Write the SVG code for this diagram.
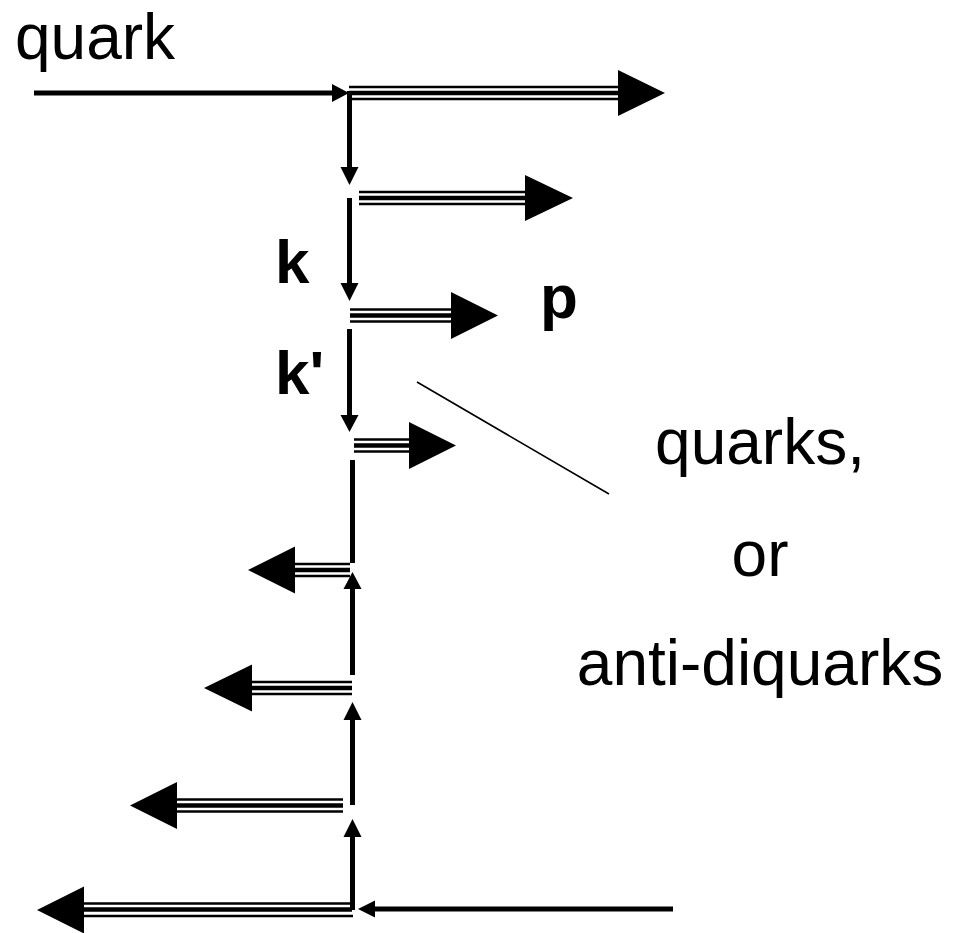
<svg xmlns="http://www.w3.org/2000/svg" width="956" height="933" viewBox="0 0 956 933">
<style>
.bg{fill:#fff}
.thin{stroke:#000;stroke-width:2.6;fill:none}
.thick{stroke:#000;stroke-width:4.5;fill:none}
.line{stroke:#000;stroke-width:5;fill:none}
.hair{stroke:#000;stroke-width:1.6;fill:none}
.head{fill:#000;stroke:none}
.lbl{font-family:"Liberation Sans",Arial,sans-serif;font-size:64px;fill:#000}
.bold{font-family:"Liberation Sans",Arial,sans-serif;font-size:62px;font-weight:bold;fill:#000}
</style>
<rect class="bg" x="0" y="0" width="956" height="933"/>
<g id="connectors">
  <g id="quark-in"><line class="line" x1="34" y1="93" x2="334" y2="93"/><polygon class="head" points="332,84 349,93 332,102"/></g>
  <g id="h1"><line class="thin" x1="349" y1="87" x2="619" y2="87"/><line class="thick" x1="349" y1="93" x2="619" y2="93"/><line class="thin" x1="349" y1="99" x2="619" y2="99"/><polygon class="head" points="618,70 665,93 618,116"/></g>
  <g id="h2"><line class="thin" x1="359" y1="192" x2="526" y2="192"/><line class="thick" x1="359" y1="198" x2="526" y2="198"/><line class="thin" x1="359" y1="204" x2="526" y2="204"/><polygon class="head" points="525,175 573,198 525,221"/></g>
  <g id="h3"><line class="thin" x1="350" y1="309.5" x2="452" y2="309.5"/><line class="thick" x1="350" y1="315.5" x2="452" y2="315.5"/><line class="thin" x1="350" y1="321.5" x2="452" y2="321.5"/><polygon class="head" points="451,292 498,315.5 451,339"/></g>
  <g id="h4"><line class="thin" x1="354" y1="439.5" x2="410" y2="439.5"/><line class="thick" x1="354" y1="445.5" x2="410" y2="445.5"/><line class="thin" x1="354" y1="451.5" x2="410" y2="451.5"/><polygon class="head" points="409,422 456,445.5 409,469"/></g>
  <g id="h5"><line class="thin" x1="350" y1="564" x2="294" y2="564"/><line class="thick" x1="350" y1="570" x2="294" y2="570"/><line class="thin" x1="350" y1="576" x2="294" y2="576"/><polygon class="head" points="295,546.5 248,570 295,593.5"/></g>
  <g id="h6"><line class="thin" x1="352" y1="682" x2="251" y2="682"/><line class="thick" x1="352" y1="688" x2="251" y2="688"/><line class="thin" x1="352" y1="694" x2="251" y2="694"/><polygon class="head" points="252,664.5 204,688 252,711.5"/></g>
  <g id="h7"><line class="thin" x1="343" y1="799.5" x2="176" y2="799.5"/><line class="thick" x1="343" y1="805.5" x2="176" y2="805.5"/><line class="thin" x1="343" y1="811.5" x2="176" y2="811.5"/><polygon class="head" points="177,782 130,805.5 177,829"/></g>
  <g id="h8"><line class="thin" x1="351" y1="903.5" x2="83" y2="903.5"/><line class="thick" x1="352" y1="909.5" x2="83" y2="909.5"/><line class="thin" x1="353" y1="916" x2="83" y2="916"/><polygon class="head" points="84,886.5 37,910 84,933.5"/></g>
  <g id="vA"><line class="line" x1="349.5" y1="91" x2="349.5" y2="169"/><polygon class="head" points="340.5,167 349.5,185 358.5,167"/></g>
  <g id="vB"><line class="line" x1="349.5" y1="198" x2="349.5" y2="285"/><polygon class="head" points="340.5,283 349.5,301 358.5,283"/></g>
  <g id="vC"><line class="line" x1="349.5" y1="329" x2="349.5" y2="417"/><polygon class="head" points="340.5,415 349.5,432 358.5,415"/></g>
  <g id="vS"><line class="line" x1="352.5" y1="460" x2="352.5" y2="563"/></g>
  <g id="vD"><line class="line" x1="352.5" y1="675" x2="352.5" y2="587"/><polygon class="head" points="343.5,589 352.5,572 361.5,589"/></g>
  <g id="vE"><line class="line" x1="352.5" y1="805" x2="352.5" y2="718"/><polygon class="head" points="343.5,720 352.5,702 361.5,720"/></g>
  <g id="vF"><line class="line" x1="352.5" y1="910" x2="352.5" y2="835"/><polygon class="head" points="343.5,837 352.5,819 361.5,837"/></g>
  <g id="quark-in-bottom"><line class="line" x1="673" y1="909" x2="373" y2="909"/><polygon class="head" points="375,900.5 358,909 375,917.5"/></g>
  <g id="pointer"><line class="hair" x1="417" y1="382" x2="609" y2="494"/></g>
</g>
<g id="label-quark"><text class="lbl" x="15" y="59">quark</text></g>
<g id="label-k"><text class="bold" x="275" y="283">k</text></g>
<g id="label-kp"><text class="bold" x="275" y="394">k'</text></g>
<g id="label-p"><text class="bold" x="540" y="318">p</text></g>
<g id="label-quarks"><text class="lbl" x="760" y="464" text-anchor="middle">quarks,</text></g>
<g id="label-or"><text class="lbl" x="760" y="576" text-anchor="middle">or</text></g>
<g id="label-anti"><text class="lbl" x="760" y="685" text-anchor="middle">anti-diquarks</text></g>
</svg>
